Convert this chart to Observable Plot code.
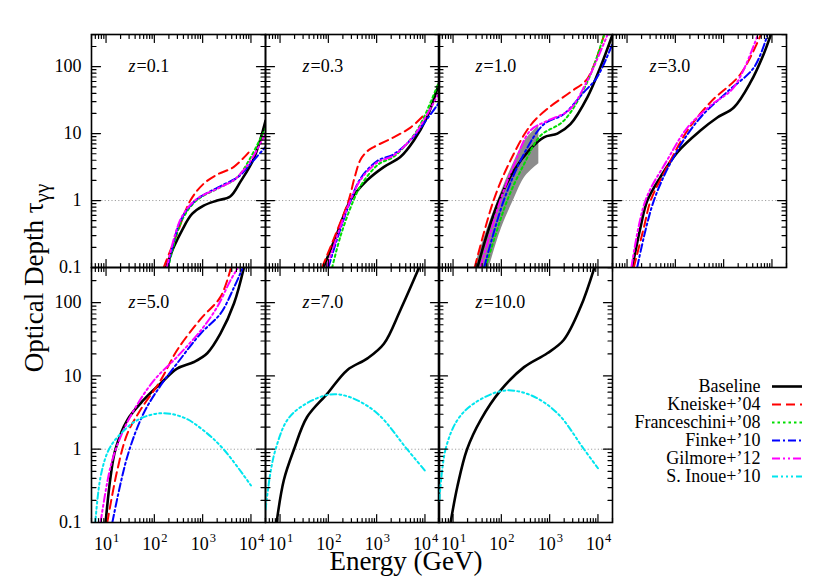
<!DOCTYPE html>
<html><head><meta charset="utf-8">
<script src="https://cdn.jsdelivr.net/npm/d3@7"></script>
<script src="https://cdn.jsdelivr.net/npm/@observablehq/plot@0.6"></script>
<style>
body{margin:0;background:#fff;}
#chart{position:relative;width:830px;height:581px;background:#fff;font-family:"Liberation Serif","Times New Roman",serif;}
#chart > svg{position:absolute;}
#chart text{font-family:"Liberation Serif","Times New Roman",serif;}
</style></head><body><div id="chart"></div>
<script>
// ---------------- data (Energy in GeV, optical depth tau) ----------------
const modelNames = ["Baseline", "Kneiske+’04", "Franceschini+’08", "Finke+’10", "Gilmore+’12", "S. Inoue+’10"];
const redshifts = ["0.1", "0.3", "1.0", "3.0", "5.0", "7.0", "10.0"];
const yTicks = [0.1, 1, 10, 100];
const yTickLabels = ["0.1", "1", "10", "100"];
const xTicks = [10, 100, 1000, 10000];
const xTickExponents = ["1", "2", "3", "4"];

// z = 0.1
const baseline_z01 = [[175,0.1],[251,0.2],[374,0.36],[603,0.63],[1047,0.84],[1995,1.0],[3715,1.15],[6026,1.9],[11400,4.2],[20000,15.5]];
const kneiske_z01 = [[156,0.1],[295,0.32],[556,1.0],[1047,1.78],[1995,2.44],[4365,3.16],[8900,5.2]];
const franceschini_z01 = [[195,0.1],[360,0.48],[720,0.98],[1995,1.5],[4365,2.0],[6026,2.5],[10000,4.5],[20000,12]];
const finke_z01 = [[190,0.1],[347,0.5],[708,1.0],[1995,1.55],[4365,2.05],[6026,2.4],[10000,3.6],[20000,6.3]];
const gilmore_z01 = [[182,0.1],[347,0.52],[708,1.02],[1995,1.5],[4365,2.0],[6026,2.5],[10000,4.0],[20000,10]];
// z = 0.3
const baseline_z03 = [[79,0.1],[151,0.32],[285,1.0],[631,2.0],[1396,3.16],[3090,4.47],[5888,7.9],[10965,17.4],[20000,59]];
const kneiske_z03 = [[74,0.1],[162,0.4],[263,1.0],[355,2.3],[457,4.0],[631,5.4],[871,6.3],[2239,8.8],[5012,12.3],[9333,18.6]];
const franceschini_z03 = [[120,0.1],[180,0.3],[331,1.0],[500,1.8],[1100,3.5],[2239,4.5],[5888,9.5],[9333,17],[20000,62]];
const finke_z03 = [[100,0.1],[165,0.32],[290,1.0],[457,2.1],[1023,3.9],[2239,4.9],[5888,9.0],[9333,14],[20000,29.5]];
const gilmore_z03 = [[93,0.1],[158,0.32],[285,1.0],[457,2.0],[1023,3.7],[2239,4.7],[5888,9.3],[9333,15.5],[20000,41.7]];
// z = 1.0
const baseline_z10 = [[32,0.1],[51,0.32],[89,1.0],[182,2.8],[398,5.9],[759,8.8],[1445,10],[2692,13.8],[6026,34.7],[11220,98],[20000,300]];
const kneiske_z10 = [[28,0.1],[69,1.0],[155,4.0],[398,13.2],[891,23.4],[2692,41.7],[6026,66],[13183,290]];
const franceschini_z10 = [[47,0.1],[132,1.0],[295,3.5],[646,9.3],[1950,15.5],[6026,59],[13183,290]];
const finke_z10 = [[44,0.1],[112,1.0],[295,5.0],[759,13.8],[1950,19.5],[5129,41.7],[9550,69],[20000,220]];
const gilmore_z10 = [[37,0.1],[95,1.0],[182,3.4],[398,11.1],[891,15.5],[2512,22.4],[5623,56],[15488,290]];
const band_z10_E = [30, 56, 100, 178, 316, 597];
const band_z10_lo = [0.02, 0.1, 0.38, 1.0, 2.3, 3.55];
const band_z10_hi = [0.12, 0.45, 1.35, 3.6, 8.0, 13.2];
// z = 3.0
const baseline_z30 = [[12.8,0.1],[19,0.4],[26.3,1.0],[49,2.24],[110,5.25],[331,11.1],[741,17.4],[1622,24.5],[3631,59],[6761,155],[9333,290]];
const kneiske_z30 = [[13.8,0.1],[22.4,0.4],[30.9,1.0],[67.6,3.16],[178,11.1],[537,29.5],[2239,77.6],[5754,290]];
const finke_z30 = [[16.2,0.1],[35.9,1.0],[110,5.6],[331,17.4],[1175,41.7],[4266,98],[7943,290]];
const gilmore_z30 = [[12.3,0.1],[24,1.0],[67.6,4.0],[178,12.3],[537,26.3],[1622,49],[5012,290]];
// z = 5.0
const baseline_z50 = [[9.8,0.1],[12.4,0.42],[15.7,1.0],[27.5,2.5],[60,4.7],[135,7.9],[295,12.6],[661,15.5],[1245,20.4],[2344,38],[4467,98],[7079,292]];
const kneiske_z50 = [[10.6,0.1],[17,0.51],[27.5,1.62],[51,3.4],[135,8.7],[295,22.4],[912,60],[2344,120],[3802,290]];
const finke_z50 = [[13.5,0.1],[27.5,0.79],[60,3.1],[135,7.4],[295,14.8],[912,38],[2344,71],[4467,162],[6607,290]];
const gilmore_z50 = [[7.7,0.1],[12.4,0.58],[20,1.48],[37.6,3.4],[98,8.7],[295,18.2],[912,41.7],[1995,87],[3802,204],[5248,290]];
const inoue_z50 = [[6,0.1],[7.7,0.42],[11.5,1.0],[20,1.62],[44.7,2.5],[135,3.1],[407,2.7],[1047,1.8],[2700,1.0],[10000,0.32]];
// z = 7.0
const baseline_z70 = [[8.5,0.1],[12,0.38],[19.5,1.0],[36.3,2.75],[95.5,5.75],[245,12],[646,17.4],[1413,27.5],[3090,79],[7413,292]];
const inoue_z70 = [[5,0.15],[6.3,0.47],[8.1,1.0],[14.1,2.5],[30.9,4.0],[110,5.6],[288,5.1],[1023,3.1],[4266,1.0],[10000,0.51]];
// z = 10.0
const baseline_z100 = [[8.9,0.1],[12.3,0.31],[19.5,1.0],[37.2,2.5],[95.5,6.3],[295,13.2],[891,20.4],[1950,30.9],[4365,87],[8318,292]];
const inoue_z100 = [[5.2,0.2],[7,1.0],[12.3,2.5],[26.9,4.2],[112,6.3],[398,5.5],[1445,3.1],[5129,1.0],[10000,0.55]];

// ---------------- styles & layout ----------------
const styleOf = {
  "Baseline":         {stroke: "#000000", strokeWidth: 2.6, dash: null},
  "Kneiske+’04":      {stroke: "#ff0000", strokeWidth: 2, dash: "9,5"},
  "Franceschini+’08": {stroke: "#00dd00", strokeWidth: 2, dash: "2.5,3"},
  "Finke+’10":        {stroke: "#0000ff", strokeWidth: 2, dash: "8,3,2,3"},
  "Gilmore+’12":      {stroke: "#ff00ff", strokeWidth: 2, dash: "8,3,2,3,2,3"},
  "S. Inoue+’10":     {stroke: "#00e5ee", strokeWidth: 2, dash: "6,3,2,3,2,3,2,3"}
};
const [BASE, KN, FR, FI, GI, IN] = modelNames;
const panels = [
  {z: redshifts[0], col: 0, row: 0, series: [[BASE, baseline_z01], [KN, kneiske_z01], [FR, franceschini_z01], [FI, finke_z01], [GI, gilmore_z01]]},
  {z: redshifts[1], col: 1, row: 0, series: [[BASE, baseline_z03], [KN, kneiske_z03], [FR, franceschini_z03], [FI, finke_z03], [GI, gilmore_z03]]},
  {z: redshifts[2], col: 2, row: 0, band: true, series: [[BASE, baseline_z10], [KN, kneiske_z10], [FR, franceschini_z10], [FI, finke_z10], [GI, gilmore_z10]]},
  {z: redshifts[3], col: 3, row: 0, series: [[BASE, baseline_z30], [KN, kneiske_z30], [FI, finke_z30], [GI, gilmore_z30]]},
  {z: redshifts[4], col: 0, row: 1, series: [[BASE, baseline_z50], [KN, kneiske_z50], [FI, finke_z50], [GI, gilmore_z50], [IN, inoue_z50]]},
  {z: redshifts[5], col: 1, row: 1, series: [[BASE, baseline_z70], [IN, inoue_z70]]},
  {z: redshifts[6], col: 2, row: 1, series: [[BASE, baseline_z100], [IN, inoue_z100]]}
];
const colLeft = [91, 265, 438, 612];
const rowTop = [34, 267];
const rowHeight = [233, 255];
const panelWidth = 174;
const xDomain = [5, 20000];
const yDomain = [0.1, 302];
const FONT = '"Liberation Serif","Times New Roman",serif';

// minor ticks
const xMinor = [], yMinor = [];
for (let k = 0; k <= 4; k++) for (let m = 2; m <= 9; m++) { const v = m * 10 ** k; if (v >= xDomain[0] && v <= xDomain[1]) xMinor.push(v); }
for (let k = -1; k <= 2; k++) for (let m = 2; m <= 9; m++) { const v = +(m * 10 ** k).toPrecision(3); if (v >= yDomain[0] && v <= yDomain[1]) yMinor.push(v); }

const tickShape = {draw(ctx, l) { ctx.moveTo(0, 0); ctx.lineTo(0, -l); }};
function xTickMarks(values, len) {
  const o = {x: d => d, length: len, anchor: "start", shape: tickShape, stroke: "#000", strokeWidth: 1.2};
  return [Plot.vector(values, {...o, frameAnchor: "bottom", rotate: 0}),
          Plot.vector(values, {...o, frameAnchor: "top", rotate: 180})];
}
function yTickMarks(values, len) {
  const o = {y: d => d, length: len, anchor: "start", shape: tickShape, stroke: "#000", strokeWidth: 1.2};
  return [Plot.vector(values, {...o, frameAnchor: "left", rotate: 90}),
          Plot.vector(values, {...o, frameAnchor: "right", rotate: -90})];
}

const chart = document.getElementById("chart");

for (const p of panels) {
  const ml = p.col === 0 ? 60 : 0;
  const mb = p.row === 1 ? 38 : 0;
  const h = rowHeight[p.row];
  const marks = [];
  marks.push(Plot.ruleY([1], {stroke: "#a0a0a0", strokeWidth: 1, strokeDasharray: "1.2,2.2"}));
  if (p.band) {
    const bandData = band_z10_E.map((E, i) => ({E, lo: band_z10_lo[i], hi: band_z10_hi[i]}));
    marks.push(Plot.areaY(bandData, {x: "E", y1: "lo", y2: "hi", fill: "#8c8c8c", curve: "catmull-rom", clip: true}));
  }
  for (const [name, data] of p.series) {
    const s = styleOf[name];
    marks.push(Plot.line(data, {x: d => d[0], y: d => d[1], stroke: s.stroke, strokeWidth: s.strokeWidth,
      strokeDasharray: s.dash, curve: "catmull-rom", clip: true}));
  }
  marks.push(...xTickMarks(xMinor, 4), ...xTickMarks(xTicks, 8), ...yTickMarks(yMinor, 4.5), ...yTickMarks(yTicks, 9));
  marks.push(Plot.frame({stroke: "#000", strokeWidth: 1.6}));
  // panel label
  marks.push(Plot.text(["z"], {y: () => 100, frameAnchor: "left", dx: 37, textAnchor: "start", fontStyle: "italic", fontSize: 18, fontFamily: FONT, text: d => d}));
  marks.push(Plot.text([`=${p.z}`], {y: () => 100, frameAnchor: "left", dx: 45, textAnchor: "start", fontSize: 18, fontFamily: FONT, text: d => d}));
  if (p.col === 0) {
    marks.push(Plot.text(yTicks, {y: d => d, text: (d, i) => yTickLabels[i], frameAnchor: "left", textAnchor: "end", dx: -10, fontSize: 18, fontFamily: FONT}));
  }
  if (p.row === 1) {
    marks.push(Plot.text(xTicks, {x: d => d, text: () => "10", frameAnchor: "bottom", textAnchor: "end", lineAnchor: "bottom", dx: 6, dy: 27, fontSize: 18, fontFamily: FONT}));
    marks.push(Plot.text(xTicks, {x: d => d, text: (d, i) => xTickExponents[i], frameAnchor: "bottom", textAnchor: "start", lineAnchor: "bottom", dx: 7, dy: 19.5, fontSize: 12.5, fontFamily: FONT}));
  }
  const svg = Plot.plot({
    width: panelWidth + ml, height: h + mb,
    marginLeft: ml, marginRight: 0, marginTop: 0, marginBottom: mb,
    x: {type: "log", domain: xDomain, axis: null},
    y: {type: "log", domain: yDomain, axis: null},
    marks
  });
  svg.style.left = (colLeft[p.col] - ml) + "px";
  svg.style.top = rowTop[p.row] + "px";
  svg.style.overflow = "visible";
  svg.style.background = "transparent";
  svg.style.fontFamily = FONT;
  chart.append(svg);
}

// legend
{
  const marks = [];
  for (const name of modelNames) {
    const s = styleOf[name];
    marks.push(Plot.ruleY([name], {y: d => d, insetLeft: 212, insetRight: 8, stroke: s.stroke, strokeWidth: s.strokeWidth, strokeDasharray: s.dash}));
  }
  marks.push(Plot.text(modelNames, {y: d => d, text: d => d, frameAnchor: "right", textAnchor: "end", dx: -50, fontSize: 18, fontFamily: FONT}));
  const svg = Plot.plot({
    width: 250, height: 118, margin: 0,
    y: {type: "point", domain: modelNames, range: [13, 104], padding: 0, axis: null},
    marks
  });
  svg.style.left = "560px";
  svg.style.top = "372px";
  svg.style.overflow = "visible";
  svg.style.background = "transparent";
  svg.style.fontFamily = FONT;
  chart.append(svg);
}

// axis titles
{
  const svg = d3.select(chart).append("svg").attr("width", 830).attr("height", 581)
    .style("left", "0px").style("top", "0px").style("pointer-events", "none").style("font-family", FONT);
  svg.append("text").attr("x", 406).attr("y", 570).attr("text-anchor", "middle").attr("font-size", 27).text("Energy (GeV)");
  const t = svg.append("text").attr("transform", "translate(43,278) rotate(-90)").attr("text-anchor", "middle").attr("font-size", 27);
  t.append("tspan").text("Optical Depth τ");
  t.append("tspan").attr("font-size", 21).attr("dy", 6).text("γγ");
}
</script></body></html>
